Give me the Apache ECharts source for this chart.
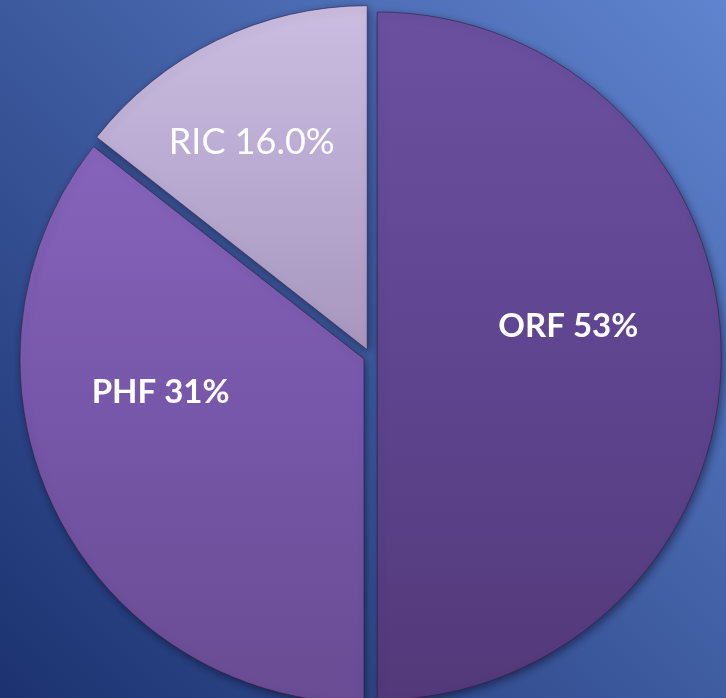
<!DOCTYPE html>
<html>
<head>
<meta charset="utf-8">
<script src="https://cdn.jsdelivr.net/npm/echarts@6/dist/echarts.min.js"></script>
<style>
  html, body { margin: 0; padding: 0; }
  #chart { width: 726px; height: 698px; }
</style>
</head>
<body>
<div id="chart"></div>
<script>
// slice sizes as drawn (clockwise from 12 o'clock)
const names = ['ORF', 'PHF', 'RIC'];
const sliceShares = [50, 35.6, 14.4];
// label texts exactly as printed on the slices
const labelPercents = ['53%', '31%', '16.0%'];
const boldLabel = [true, true, false];
const labelShift = [[16, -30], [-46, -43], [-39, -50]];

const fills = [
  ['#6b50a0', '#5f4590', '#533979'],
  ['#8664bb', '#7656a8', '#694c93'],
  ['#cbbde0', '#b9aad2', '#a797bf']
];

const chart = echarts.init(document.getElementById('chart'));

const grad = (c) => new echarts.graphic.LinearGradient(0, 0, 0, 1, [
  { offset: 0, color: c[0] },
  { offset: 0.5, color: c[1] },
  { offset: 1, color: c[2] }
]);

const pieData = names.map((n, i) => ({
  name: n,
  value: sliceShares[i],
  selected: true,
  itemStyle: { color: grad(fills[i]) },
  label: {
    formatter: n + ' ' + labelPercents[i],
    fontWeight: boldLabel[i] ? 'bold' : 'normal',
    fontSize: boldLabel[i] ? 33 : 36
  }
}));

chart.setOption({
  animation: false,
  backgroundColor: new echarts.graphic.LinearGradient(0, 1, 1, 0, [
    { offset: 0, color: '#1c3270' },
    { offset: 1, color: '#6084cf' }
  ]),
  series: [
    {
      type: 'pie',
      center: ['51%', '51%'],
      radius: 344,
      startAngle: 90,
      clockwise: true,
      selectedMode: 'multiple',
      selectedOffset: 7,
      avoidLabelOverlap: false,
      data: pieData,
      itemStyle: {
        borderColor: 'rgba(45,25,70,0.55)',
        borderWidth: 1,
        shadowBlur: 8,
        shadowColor: 'rgba(0,0,20,0.45)',
        shadowOffsetX: 2,
        shadowOffsetY: 3
      },
      label: {
        show: true,
        position: 'inside',
        color: '#ffffff',
        fontFamily: 'Lato'
      },
      labelLine: { show: false },
      labelLayout: (p) => ({
        dx: labelShift[p.dataIndex][0],
        dy: labelShift[p.dataIndex][1]
      }),
      emphasis: { disabled: true },
      select: { itemStyle: {} }
    }
  ]
});

window.addEventListener('resize', chart.resize);
</script>
</body>
</html>
